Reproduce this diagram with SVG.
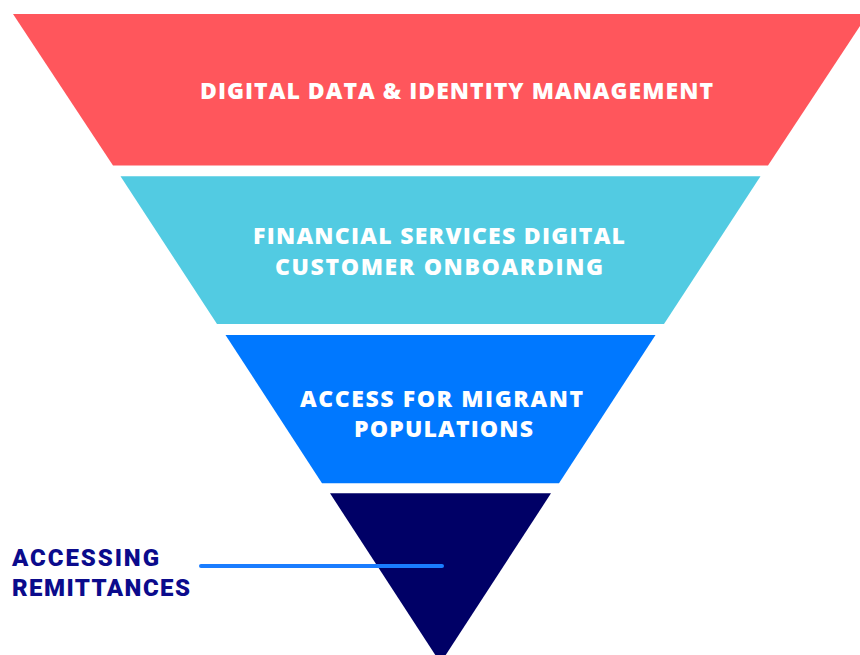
<svg xmlns="http://www.w3.org/2000/svg" width="860" height="655" viewBox="0 0 860 655">
  <style>
    .lbl { font-family: "Open Sans", "Liberation Sans", sans-serif; font-weight: 800; font-size: 23px; fill: #ffffff; }
    .side { font-family: "Roboto", "Liberation Sans", sans-serif; font-weight: 900; font-size: 24px; fill: #0b0b8c; }
    .leader { stroke: #1a7dff; stroke-width: 4; stroke-linecap: round; fill: none; }
  </style>
  <rect width="860" height="655" fill="#ffffff"/>

  <!-- funnel tiers, top to bottom -->
  <g id="tier-identity">
    <polygon points="13,14 868,14 768,165.5 113,165.5" fill="#ff565c"/>
    <text class="lbl" x="200" y="99" textLength="513">DIGITAL DATA &amp; IDENTITY MANAGEMENT</text>
  </g>

  <g id="tier-onboarding">
    <polygon points="120.5,176.3 760.5,176.3 664,324 217,324" fill="#52cbe2"/>
    <text class="lbl" x="253" y="243.5" textLength="372">FINANCIAL SERVICES DIGITAL</text>
    <text class="lbl" x="275" y="275" textLength="328">CUSTOMER ONBOARDING</text>
  </g>

  <g id="tier-migrant">
    <polygon points="225.5,335 655.5,335 559,483.3 322,483.3" fill="#0078ff"/>
    <text class="lbl" x="300" y="406.7" textLength="283">ACCESS FOR MIGRANT</text>
    <text class="lbl" x="354" y="436.7" textLength="179">POPULATIONS</text>
  </g>

  <g id="tier-remittances">
    <polygon points="330,493.3 551,493.3 440.5,663" fill="#000066"/>
  </g>

  <!-- callout for the bottom tier -->
  <g id="connectors">
    <line class="leader" x1="201" y1="566" x2="442" y2="566"/>
  </g>

  <g id="label-remittances">
    <text class="side" x="12" y="566" textLength="147">ACCESSING</text>
    <text class="side" x="12" y="595.5" textLength="178">REMITTANCES</text>
  </g>
</svg>
